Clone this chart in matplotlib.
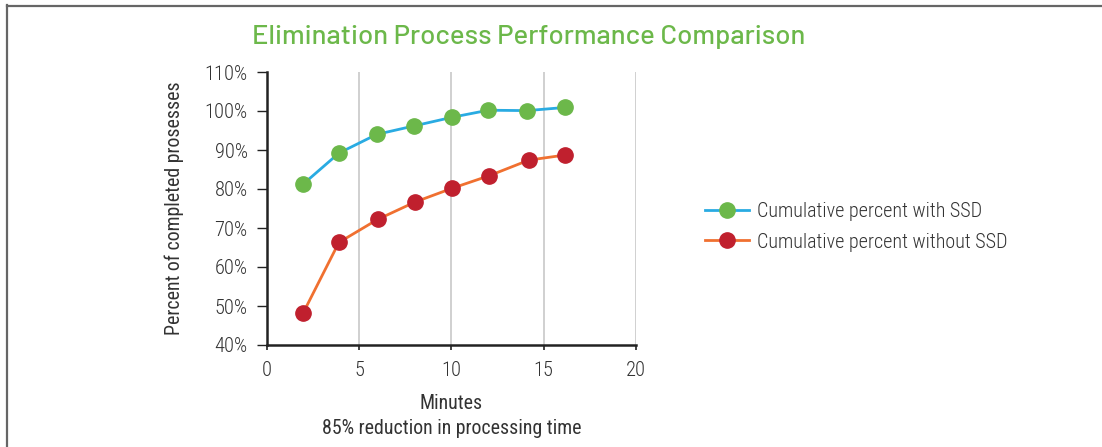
import matplotlib
matplotlib.use("Agg")
import matplotlib.pyplot as plt
from matplotlib.lines import Line2D
from matplotlib.ticker import FuncFormatter

minutes_ssd = [1.95, 3.9, 5.95, 8.0, 10.05, 12.0, 14.1, 16.15]
pct_ssd = [81.2, 89.2, 94.0, 96.2, 98.4, 100.2, 100.1, 100.9]
minutes_nossd = [1.95, 3.9, 6.0, 8.05, 10.05, 12.05, 14.2, 16.15]
pct_nossd = [48.1, 66.3, 72.2, 76.7, 80.2, 83.4, 87.4, 88.7]
labels = ["Cumulative percent with SSD", "Cumulative percent without SSD"]
title = "Elimination Process Performance Comparison"

plt.rcParams['font.family'] = ['Roboto Condensed', 'DejaVu Sans']
plt.rcParams['font.weight'] = 300
txt = '#333333'
fs = 14.3

fig = plt.figure(figsize=(11.02, 4.47), dpi=100)
ax = fig.add_axes([267/1102, 1-345/447, (635.7-267)/1102, (345-72)/447])

ax.plot(minutes_ssd, pct_ssd, color='#29abe2', lw=2, marker='o', ms=11,
        mfc='#6cb84a', mec='#6cb84a', label=labels[0], zorder=3)
ax.plot(minutes_nossd, pct_nossd, color='#f07030', lw=2, marker='o', ms=11,
        mfc='#c0202e', mec='#c0202e', label=labels[1], zorder=3)

ax.set_xlim(0, 20)
ax.set_ylim(40, 110)
ax.set_xticks([0, 5, 10, 15, 20])
ax.set_yticks(range(40, 111, 10))
ax.yaxis.set_major_formatter(FuncFormatter(lambda v, p: f"{int(v)}%"))
ax.grid(axis='x', color='#c8c8c8', lw=1.2)
ax.set_axisbelow(True)
for s in ['top', 'right']:
    ax.spines[s].set_visible(False)
for s in ['left', 'bottom']:
    ax.spines[s].set_linewidth(1.8)
    ax.spines[s].set_color('#222222')
ax.tick_params(axis='y', length=7, width=1, color='#222222', labelsize=14.8, labelcolor=txt, pad=7)
ax.tick_params(axis='x', length=3.5, width=1.2, color='#222222', labelsize=14.8, labelcolor=txt, pad=8)

ax.set_ylabel("Percent of completed prosesses", fontsize=fs, color=txt, labelpad=15)
ax.set_xlabel("Minutes\n85% reduction in processing time", fontsize=fs, color=txt,
              labelpad=10, linespacing=1.42)

fig.text(529/1102, 1-37/447, title, ha='center', va='center', fontsize=19.8,
         color='#6cb84a', family=['Barlow', 'DejaVu Sans'], weight=500)

ax.legend(loc='center left', bbox_to_anchor=(687/1102, 1-227/447),
          bbox_transform=fig.transFigure, frameon=False, fontsize=14.5,
          labelcolor=txt, handlelength=2.2, handletextpad=0.4, labelspacing=0.55)

fig.add_artist(Line2D([6.5/1102, 6.5/1102], [0, 1-5/447], transform=fig.transFigure,
                      color='#666666', lw=1.6))
fig.add_artist(Line2D([6.5/1102, 1], [1-5.5/447, 1-5.5/447], transform=fig.transFigure,
                      color='#666666', lw=1.6))

fig.savefig("out.png", dpi=100, facecolor='white')
